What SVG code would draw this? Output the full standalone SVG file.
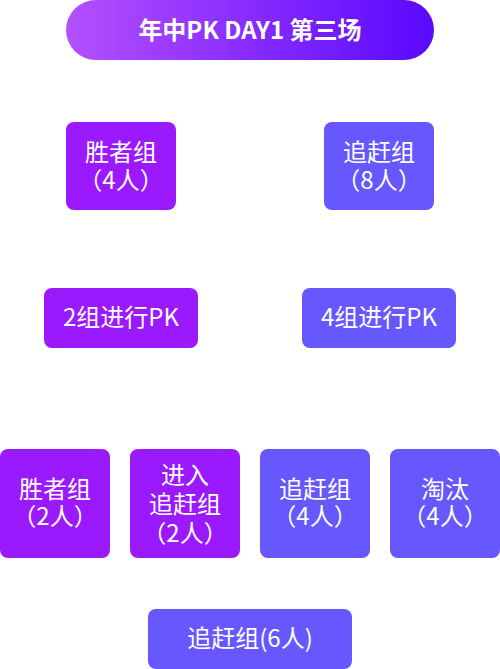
<svg xmlns="http://www.w3.org/2000/svg" width="500" height="669" viewBox="0 0 500 669">
<defs>
<linearGradient id="tg" x1="0" y1="0" x2="1" y2="0">
<stop offset="0" stop-color="#b450fc"/>
<stop offset="1" stop-color="#5a08ff"/>
</linearGradient>
<style>
text{font-family:"Noto Sans CJK SC","Noto Sans",sans-serif;fill:#fff;text-anchor:middle;font-size:24px}
.t{font-weight:bold;font-size:24px}
.p{fill:#9b19fd}
.b{fill:#6657ff}
</style>
</defs>
<rect width="500" height="669" fill="#fff"/>
<g id="title"><rect x="66" y="0" width="368" height="60" rx="30" fill="url(#tg)"/><text class="t" x="250" y="38.5">年中PK DAY1 第三场</text></g>
<g id="n1"><rect class="p" x="66" y="122" width="110" height="88" rx="8"/><text x="121" y="161">胜者组</text><text x="121" y="189">（4人）</text></g>
<g id="n2"><rect class="b" x="324" y="122" width="110" height="88" rx="8"/><text x="379" y="161">追赶组</text><text x="379" y="189">（8人）</text></g>
<g id="n3"><rect class="p" x="44" y="288" width="154" height="60" rx="8"/><text x="121" y="326">2组进行PK</text></g>
<g id="n4"><rect class="b" x="302" y="288" width="154" height="60" rx="8"/><text x="379" y="326">4组进行PK</text></g>
<g id="n5"><rect class="p" x="0" y="449" width="110" height="109" rx="8"/><text x="55" y="498">胜者组</text><text x="55" y="525">（2人）</text></g>
<g id="n6"><rect class="p" x="130" y="449" width="110" height="109" rx="8"/><text x="185" y="484">进入</text><text x="185" y="512.5">追赶组</text><text x="185" y="542">（2人）</text></g>
<g id="n7"><rect class="b" x="260" y="449" width="110" height="109" rx="8"/><text x="315" y="498">追赶组</text><text x="315" y="525">（4人）</text></g>
<g id="n8"><rect class="b" x="390" y="449" width="110" height="109" rx="8"/><text x="445" y="498">淘汰</text><text x="445" y="525">（4人）</text></g>
<g id="n9"><rect class="b" x="148" y="609" width="204" height="60" rx="8"/><text x="250" y="647">追赶组(6人)</text></g>
<g id="connectors"></g>
</svg>
